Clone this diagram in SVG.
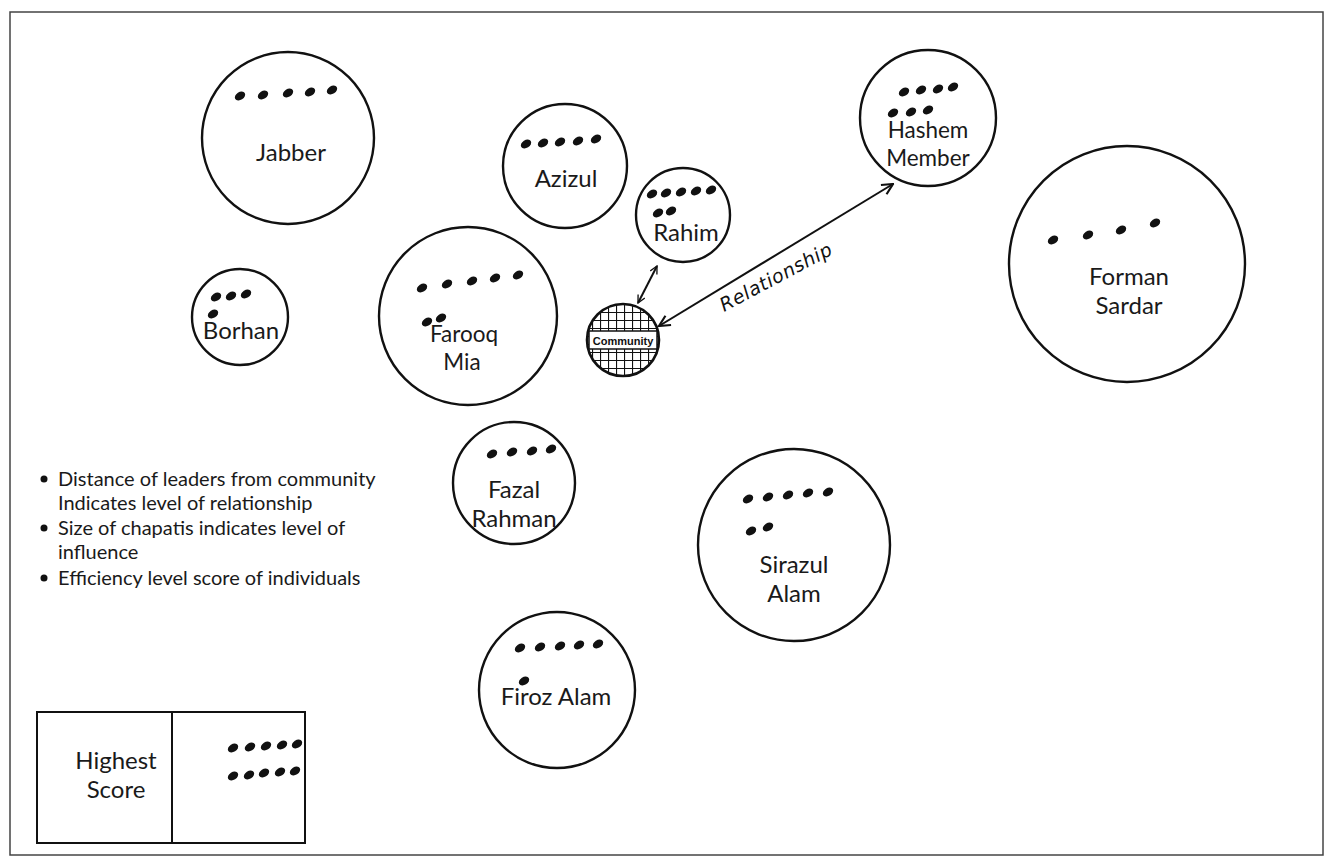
<svg xmlns="http://www.w3.org/2000/svg" width="1335" height="864" viewBox="0 0 1335 864">
<style>
.c{fill:none;stroke:#111;stroke-width:2.4}
.t{font-family:Lato,"Open Sans",sans-serif;font-size:24px;fill:#1a1a1a;text-anchor:middle}
.t2{font-family:Lato,"Open Sans",sans-serif;font-size:22.5px;fill:#1a1a1a;text-anchor:middle}
.l{font-family:Lato,"Open Sans",sans-serif;font-size:20px;fill:#1a1a1a}
.d{fill:#111}
.a{fill:none;stroke:#111;stroke-width:2}
</style>
<defs>
<marker id="ah" viewBox="0 0 12 12" refX="11" refY="6" markerWidth="13" markerHeight="13" markerUnits="userSpaceOnUse" orient="auto-start-reverse"><path d="M1,1 L11,6 L1,11" fill="none" stroke="#111" stroke-width="2"/></marker>
<marker id="ahs" viewBox="0 0 12 12" refX="11" refY="6" markerWidth="9" markerHeight="9" markerUnits="userSpaceOnUse" orient="auto-start-reverse"><path d="M1,1 L11,6 L1,11" fill="none" stroke="#111" stroke-width="1.8"/></marker>
<pattern id="hatch" x="0" y="0" width="8" height="8" patternUnits="userSpaceOnUse"><path d="M0,0 H8 M0,0 V8" stroke="#111" stroke-width="2.2"/></pattern>
<g id="dot"><ellipse rx="5.6" ry="3.9" transform="rotate(-32)"/></g>
</defs>
<rect width="1335" height="864" fill="#fff"/>
<rect x="10" y="12" width="1313" height="843" fill="none" stroke="#444" stroke-width="1.5"/>

<g id="connectors">
<line class="a" x1="657" y1="266" x2="638" y2="303" marker-start="url(#ahs)" marker-end="url(#ahs)"/>
<line class="a" x1="893" y1="184" x2="659" y2="326" marker-start="url(#ah)" marker-end="url(#ah)"/>
<text x="0" y="0" transform="translate(724,312) rotate(-28)" style="font-family:'DejaVu Sans',sans-serif;font-style:italic;font-size:19px;letter-spacing:0.6px;fill:#111">Relationship</text>
</g>

<g id="jabber">
<circle class="c" cx="288" cy="138" r="86"/>
<g class="d"><use href="#dot" x="240" y="96"/><use href="#dot" x="263" y="95"/><use href="#dot" x="288" y="93"/><use href="#dot" x="310" y="92"/><use href="#dot" x="332" y="90"/></g>
<text class="t" x="291" y="161">Jabber</text>
</g>

<g id="azizul">
<circle class="c" cx="565" cy="166" r="62"/>
<g class="d"><use href="#dot" x="526" y="144"/><use href="#dot" x="543" y="143"/><use href="#dot" x="560" y="142"/><use href="#dot" x="578" y="141"/><use href="#dot" x="596" y="139"/></g>
<text class="t" x="566" y="187">Azizul</text>
</g>

<g id="rahim">
<circle class="c" cx="683" cy="215" r="47"/>
<g class="d"><use href="#dot" x="652" y="194"/><use href="#dot" x="666" y="193"/><use href="#dot" x="681" y="192"/><use href="#dot" x="696" y="191"/><use href="#dot" x="711" y="190"/><use href="#dot" x="658" y="213"/><use href="#dot" x="671" y="211"/></g>
<text class="t" x="686" y="241">Rahim</text>
</g>

<g id="hashem">
<circle class="c" cx="928" cy="118" r="68"/>
<g class="d"><use href="#dot" x="904" y="92"/><use href="#dot" x="921" y="90"/><use href="#dot" x="938" y="89"/><use href="#dot" x="953" y="87"/><use href="#dot" x="893" y="113"/><use href="#dot" x="911" y="112"/><use href="#dot" x="928" y="110"/></g>
<text class="t2" x="928" y="138">Hashem</text>
<text class="t2" x="928" y="166">Member</text>
</g>

<g id="forman">
<circle class="c" cx="1127" cy="264" r="118"/>
<g class="d"><use href="#dot" x="1053" y="240"/><use href="#dot" x="1088" y="235"/><use href="#dot" x="1121" y="230"/><use href="#dot" x="1155" y="223"/></g>
<text class="t" x="1129" y="285">Forman</text>
<text class="t" x="1129" y="314">Sardar</text>
</g>

<g id="borhan">
<circle class="c" cx="240" cy="317" r="48"/>
<g class="d"><use href="#dot" x="216" y="297"/><use href="#dot" x="231" y="296"/><use href="#dot" x="246" y="294"/><use href="#dot" x="213" y="314"/></g>
<text class="t" x="241" y="339">Borhan</text>
</g>

<g id="farooq">
<circle class="c" cx="468" cy="316" r="89"/>
<g class="d"><use href="#dot" x="422" y="288"/><use href="#dot" x="447" y="284"/><use href="#dot" x="472" y="281"/><use href="#dot" x="495" y="278"/><use href="#dot" x="518" y="275"/><use href="#dot" x="427" y="322"/><use href="#dot" x="441" y="318"/></g>
<text class="t2" x="464" y="342">Farooq</text>
<text class="t2" x="462" y="370">Mia</text>
</g>

<g id="community">
<circle cx="623" cy="340" r="36" fill="url(#hatch)" stroke="#111" stroke-width="2.6"/>
<rect x="589" y="331" width="68" height="18" fill="#fff" stroke="#111" stroke-width="1.5"/>
<text x="623" y="345" style="font-family:'Liberation Sans',Arial,sans-serif;font-size:11px;font-weight:bold;fill:#111;text-anchor:middle">Community</text>
</g>

<g id="fazal">
<circle class="c" cx="514" cy="483" r="61"/>
<g class="d"><use href="#dot" x="492" y="454"/><use href="#dot" x="512" y="452"/><use href="#dot" x="532" y="451"/><use href="#dot" x="551" y="449"/></g>
<text class="t" x="514" y="498">Fazal</text>
<text class="t" x="514" y="527">Rahman</text>
</g>

<g id="sirazul">
<circle class="c" cx="794" cy="545" r="96"/>
<g class="d"><use href="#dot" x="748" y="499"/><use href="#dot" x="768" y="497"/><use href="#dot" x="788" y="495"/><use href="#dot" x="808" y="493"/><use href="#dot" x="828" y="492"/><use href="#dot" x="751" y="531"/><use href="#dot" x="768" y="527"/></g>
<text class="t" x="794" y="573">Sirazul</text>
<text class="t" x="794" y="602">Alam</text>
</g>

<g id="firoz">
<circle class="c" cx="557" cy="690" r="78"/>
<g class="d"><use href="#dot" x="520" y="648"/><use href="#dot" x="540" y="647"/><use href="#dot" x="560" y="646"/><use href="#dot" x="579" y="645"/><use href="#dot" x="598" y="644"/><use href="#dot" x="524" y="681"/></g>
<text class="t" x="556" y="705">Firoz Alam</text>
</g>

<g id="legend">
<circle cx="44" cy="479" r="3.5" fill="#111"/>
<text class="l" x="58" y="486">Distance of leaders from community</text>
<text class="l" x="58" y="510">Indicates level of relationship</text>
<circle cx="44" cy="528" r="3.5" fill="#111"/>
<text class="l" x="58" y="535">Size of chapatis indicates level of</text>
<text class="l" x="58" y="559">influence</text>
<circle cx="44" cy="578" r="3.5" fill="#111"/>
<text class="l" x="58" y="585">Efficiency level score of individuals</text>
</g>

<g id="score-box">
<rect x="37" y="712" width="268" height="131" fill="none" stroke="#111" stroke-width="2"/>
<line x1="172" y1="712" x2="172" y2="843" stroke="#111" stroke-width="2"/>
<text class="t" x="116" y="769">Highest</text>
<text class="t" x="116" y="798">Score</text>
<g class="d"><use href="#dot" x="233" y="748"/><use href="#dot" x="250" y="747"/><use href="#dot" x="266" y="746"/><use href="#dot" x="282" y="745"/><use href="#dot" x="297" y="744"/><use href="#dot" x="233" y="776"/><use href="#dot" x="249" y="775"/><use href="#dot" x="264" y="773"/><use href="#dot" x="280" y="772"/><use href="#dot" x="295" y="771"/></g>
</g>
</svg>
